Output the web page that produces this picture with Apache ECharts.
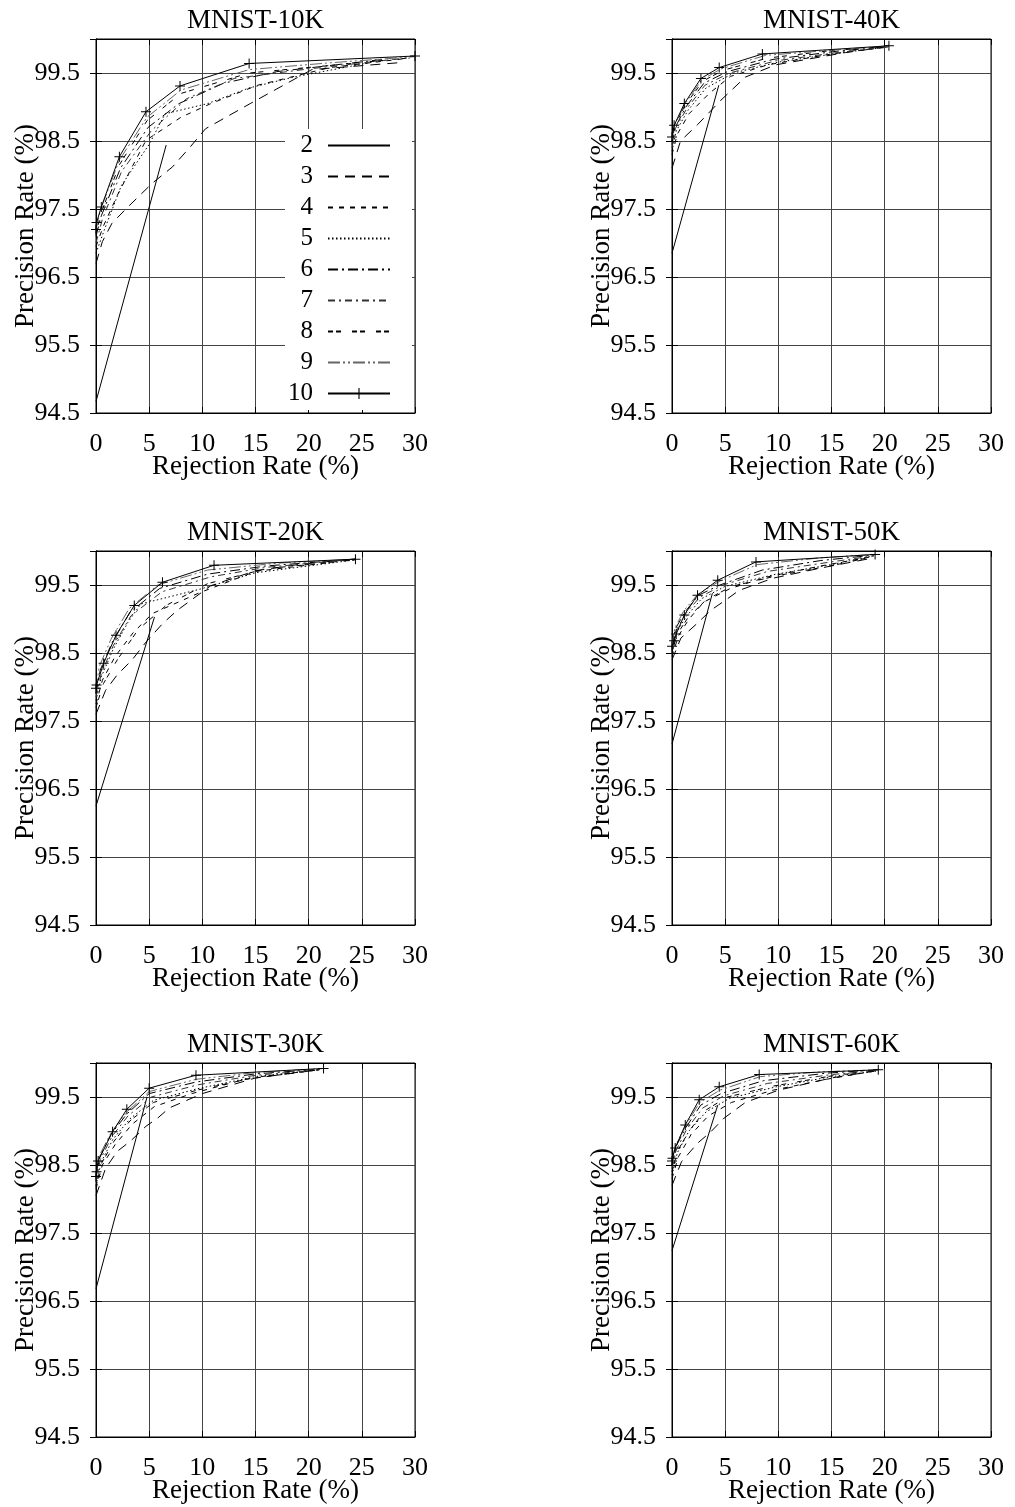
<!DOCTYPE html>
<html><head><meta charset="utf-8">
<script src="https://cdn.jsdelivr.net/npm/echarts@6/dist/echarts.min.js"></script>
<style>html,body{margin:0;padding:0;background:#fff}#c{width:1015px;height:1507px}</style>
</head><body><div id="c"></div>
<script>
// ---------------- data ----------------
const panelTitles = ['MNIST-10K', 'MNIST-40K', 'MNIST-20K', 'MNIST-50K', 'MNIST-30K', 'MNIST-60K'];
const kNames = ['2', '3', '4', '5', '6', '7', '8', '9', '10'];
const xTickValues = [0, 5, 10, 15, 20, 25, 30];
const yTickValues = [94.5, 95.5, 96.5, 97.5, 98.5, 99.5];
const xAxisTitle = 'Rejection Rate (%)';
const yAxisTitle = 'Precision Rate (%)';

// each array: one curve per k (2..10), points [rejection %, precision %]
const curves10K = [
  [[0,94.67],[6.6,98.44]],
  [[0,96.7],[0.6,97.02],[1.5,97.29],[3.0,97.53],[5.3,97.88],[7.2,98.12],[8.9,98.42],[10.3,98.68],[14.5,99.05],[20.3,99.55],[28.4,99.65]],
  [[0,96.95],[0.7,97.25],[2.0,97.7],[4.7,98.51],[8.0,98.85],[10.8,99.05],[15.2,99.32],[22,99.58],[29.5,99.72]],
  [[0,96.85],[0.8,97.2],[2.4,97.85],[5.0,98.45],[6.5,98.9],[10.5,99.05],[14.4,99.28],[18.6,99.44],[26,99.66]],
  [[0,97.1],[0.5,97.4],[2.3,98.1],[4.9,98.7],[7.8,99.05],[12,99.35],[17,99.52],[27,99.7]],
  [[0,97.0],[0.6,97.35],[2.4,98.05],[5.2,98.65],[8.5,99.12],[13,99.42],[20,99.56],[28,99.7]],
  [[0,97.15],[0.5,97.45],[2.2,98.15],[4.8,98.8],[8.0,99.2],[14.4,99.5],[24,99.64],[30,99.73]],
  [[0,97.2],[0.4,97.48],[2.2,98.22],[4.8,98.85],[8.0,99.25],[14.4,99.55],[22,99.65],[30,99.74]],
  [[0,97.2],[0.05,97.3],[0.5,97.53],[2.2,98.27],[4.7,98.93],[7.9,99.31],[14.4,99.64],[30,99.75]]
];
const curves40K = [
  [[0,96.85],[4.4,99.32]],
  [[0,98.1],[0.8,98.5],[2.4,98.74],[4.6,99.1],[6.9,99.44],[9.75,99.62],[16.3,99.8],[20,99.88]],
  [[0,98.3],[0.5,98.6],[1.6,98.9],[3.5,99.2],[5.5,99.45],[9,99.62],[15,99.78],[20.2,99.88]],
  [[0,98.35],[0.4,98.65],[1.5,98.95],[3.2,99.28],[5.8,99.5],[10,99.66],[16,99.8],[20.2,99.88]],
  [[0,98.45],[0.3,98.7],[1.3,99.0],[3.0,99.35],[5.2,99.52],[9.5,99.7],[15.5,99.82],[20.3,99.89]],
  [[0,98.4],[0.3,98.68],[1.4,98.98],[3.1,99.32],[5.4,99.5],[9.8,99.68],[16,99.81],[20.3,99.88]],
  [[0,98.5],[0.25,98.72],[1.2,99.02],[2.9,99.38],[4.8,99.54],[9,99.72],[15,99.83],[20.3,99.89]],
  [[0,98.52],[0.2,98.72],[1.2,99.04],[2.8,99.4],[4.6,99.56],[8.8,99.76],[18,99.87],[20.4,99.9]],
  [[0,98.56],[0.2,98.73],[1.16,99.05],[2.72,99.42],[4.44,99.58],[8.5,99.78],[20.4,99.9]]
];
const curves20K = [
  [[0,96.25],[5.5,99.03]],
  [[0,97.6],[0.9,97.95],[2.0,98.18],[3.4,98.4],[4.7,98.66],[6.25,98.93],[7.66,99.13],[10.8,99.49],[15,99.71],[19,99.8],[24,99.88]],
  [[0,97.75],[0.6,98.1],[1.8,98.45],[3.5,98.8],[5.3,99.08],[9.8,99.39],[15,99.7],[24,99.87]],
  [[0,97.8],[0.5,98.15],[1.6,98.55],[3.0,98.95],[4.2,99.22],[9.8,99.44],[15,99.68],[24.4,99.87]],
  [[0,97.9],[0.4,98.25],[1.5,98.65],[3.2,99.1],[6.0,99.45],[10.5,99.66],[16,99.78],[24.4,99.88]],
  [[0,97.85],[0.5,98.2],[1.6,98.6],[3.3,99.05],[6.2,99.4],[10.8,99.62],[16,99.76],[24.4,99.88]],
  [[0,97.7],[0.7,98.05],[2.0,98.4],[4.0,98.85],[6.6,99.2],[10.5,99.52],[16,99.74],[24.4,99.87]],
  [[0,97.95],[0.3,98.3],[1.4,98.7],[3.1,99.15],[5.8,99.5],[10.5,99.72],[17,99.82],[24.4,99.88]],
  [[0,97.98],[0.05,98.03],[0.72,98.35],[1.88,98.76],[3.6,99.2],[6.25,99.54],[11.1,99.79],[24.4,99.88]]
];
const curves50K = [
  [[0,97.16],[3.8,99.38]],
  [[0,98.4],[0.84,98.72],[2.4,98.94],[3.66,99.13],[5.06,99.28],[6.3,99.42],[9.5,99.6],[14,99.75],[19,99.9]],
  [[0,98.45],[0.6,98.75],[1.6,99.0],[3.0,99.25],[5.5,99.45],[9,99.62],[14,99.78],[18.9,99.92]],
  [[0,98.5],[0.4,98.8],[1.4,99.05],[2.8,99.3],[5.0,99.48],[9.8,99.66],[15,99.8],[19,99.93]],
  [[0,98.58],[0.3,98.85],[1.2,99.1],[2.5,99.35],[4.5,99.5],[8.5,99.72],[14,99.86],[19,99.94]],
  [[0,98.55],[0.35,98.82],[1.3,99.08],[2.6,99.32],[4.8,99.5],[9,99.7],[15,99.84],[19,99.93]],
  [[0,98.52],[0.5,98.78],[1.5,99.02],[3.2,99.28],[5.6,99.48],[10,99.64],[15.5,99.8],[19,99.92]],
  [[0,98.6],[0.25,98.86],[1.1,99.12],[2.4,99.36],[4.4,99.55],[8.0,99.8],[14,99.9],[19.1,99.95]],
  [[0,98.6],[0.2,98.68],[0.4,98.78],[1.16,99.06],[2.4,99.35],[4.3,99.57],[7.9,99.84],[19.1,99.95]]
];
const curves30K = [
  [[0,96.68],[4.8,99.5]],
  [[0,98.05],[0.9,98.45],[2.0,98.7],[3.3,98.86],[4.7,99.07],[5.8,99.19],[6.9,99.34],[10,99.55],[15,99.78],[20,99.88]],
  [[0,98.15],[0.6,98.5],[1.8,98.8],[3.4,99.1],[5.5,99.36],[9,99.55],[14,99.76],[21,99.9]],
  [[0,98.2],[0.5,98.55],[1.6,98.88],[3.2,99.18],[5.4,99.45],[9.5,99.62],[15,99.8],[21,99.9]],
  [[0,98.3],[0.3,98.6],[1.4,98.95],[2.9,99.25],[5.0,99.55],[9.4,99.72],[15,99.84],[21.2,99.91]],
  [[0,98.25],[0.4,98.58],[1.5,98.92],[3.0,99.22],[5.2,99.5],[9.6,99.68],[15,99.82],[21,99.9]],
  [[0,98.18],[0.5,98.52],[1.7,98.85],[3.2,99.15],[5.4,99.42],[9.5,99.6],[15,99.79],[21,99.9]],
  [[0,98.32],[0.25,98.62],[1.4,98.97],[2.9,99.28],[5.0,99.58],[9.4,99.76],[15,99.86],[21.3,99.92]],
  [[0,98.33],[0.05,98.4],[0.2,98.56],[1.56,98.99],[2.9,99.32],[5,99.63],[9.4,99.82],[21.4,99.92]]
];
const curves60K = [
  [[0,97.24],[4.3,99.38]],
  [[0,98.2],[0.9,98.55],[2.4,98.82],[3.66,98.99],[4.9,99.19],[6.9,99.42],[10,99.6],[15,99.78],[19,99.88]],
  [[0,98.3],[0.6,98.62],[1.8,98.95],[3.4,99.22],[5.6,99.42],[9.5,99.6],[14.5,99.76],[19,99.88]],
  [[0,98.35],[0.5,98.68],[1.6,99.0],[3.2,99.28],[5.4,99.48],[9.8,99.65],[15,99.8],[19.2,99.88]],
  [[0,98.5],[0.3,98.75],[1.3,99.05],[2.7,99.38],[4.6,99.55],[8.6,99.74],[14.5,99.85],[19.3,99.9]],
  [[0,98.45],[0.4,98.72],[1.4,99.03],[2.9,99.34],[4.9,99.52],[9,99.7],[15,99.83],[19.3,99.89]],
  [[0,98.4],[0.5,98.7],[1.6,99.0],[3.1,99.3],[5.2,99.5],[9.5,99.66],[15,99.81],[19.2,99.89]],
  [[0,98.55],[0.25,98.76],[1.25,99.07],[2.6,99.42],[4.5,99.6],[8.3,99.8],[14,99.87],[19.4,99.9]],
  [[0,98.56],[0.05,98.6],[0.3,98.75],[1.25,99.09],[2.56,99.46],[4.44,99.65],[8.2,99.83],[19.4,99.9]]
];
const panelCurves = [curves10K, curves40K, curves20K, curves50K, curves30K, curves60K];

// ---------------- styles / layout ----------------
const FONT = 'Liberation Serif, Times New Roman, serif';
const FS = 26;      // tick labels
const FS_NAME = 27; // titles & axis names
const colLeft = [96, 672];
const rowTop = [39, 551, 1063];
const PW = 319, PH = 374;
const lineColors = ['#000','#000','#000','#000','#000','#333','#000','#666','#000'];
const lineTypes = ['solid', [10,7], [5,6], [1.5,2.5], [10,4,2,4], [7,4,2,4], [5,3,5,11], [12,3,2,3,2,3], 'solid'];
const plusPath = 'path://M4.5,0h1v10h-1zM0,4.5h10v1h-10z';

const grids = [], xAxes = [], yAxes = [], titles = [], series = [];
panelTitles.forEach((t, p) => {
  const col = p % 2, row = Math.floor(p / 2);
  const left = colLeft[col], top = rowTop[row];
  grids.push({left: left, top: top, width: PW, height: PH, show: true, borderColor: '#000', borderWidth: 1,
              backgroundColor: 'transparent', containLabel: false, outerBoundsMode: 'none'});
  titles.push({text: t, left: left + PW / 2, top: top - 32, textAlign: 'center', padding: 0,
               textStyle: {fontFamily: FONT, fontSize: FS_NAME, fontWeight: 'normal', color: '#000'}});
  const axLine = {show: true, lineStyle: {color: '#000', width: 1}};
  const axTick = {show: true, inside: true, length: 6, lineStyle: {color: '#000', width: 1}};
  xAxes.push({type: 'value', gridIndex: p, position: 'bottom', min: 0, max: 30, interval: 5,
    axisLine: axLine, axisTick: axTick,
    axisLabel: {show: true, margin: 18, fontFamily: FONT, fontSize: FS, color: '#000',
                formatter: v => String(v)},
    splitLine: {show: true, lineStyle: {color: '#444', width: 1}},
    name: xAxisTitle, nameLocation: 'middle', nameGap: 40, nameMoveOverlap: false,
    nameTextStyle: {fontFamily: FONT, fontSize: FS_NAME, color: '#000'}});
  xAxes.push({type: 'value', gridIndex: p, position: 'top', min: 0, max: 30, interval: 5,
    axisLine: axLine, axisTick: axTick, axisLabel: {show: false}, splitLine: {show: false}});
  yAxes.push({type: 'value', gridIndex: p, position: 'left', min: 94.5, max: 100, interval: 1,
    axisLine: axLine, axisTick: axTick,
    axisLabel: {show: true, margin: 16, fontFamily: FONT, fontSize: FS, color: '#000',
                formatter: v => (yTickValues.some(y => Math.abs(y - v) < 1e-6) ? v.toFixed(1) : '')},
    splitLine: {show: true, lineStyle: {color: '#444', width: 1}},
    name: yAxisTitle, nameLocation: 'middle', nameGap: 57, nameMoveOverlap: false,
    nameTextStyle: {fontFamily: FONT, fontSize: FS_NAME, color: '#000'}});
  yAxes.push({type: 'value', gridIndex: p, position: 'right', min: 94.5, max: 100, interval: 1,
    axisLine: axLine, axisTick: axTick, axisLabel: {show: false}, splitLine: {show: false}});
  panelCurves[p].forEach((pts, j) => {
    series.push({
      type: 'line', name: kNames[j], xAxisIndex: 2 * p, yAxisIndex: 2 * p,
      data: pts, symbol: j === 8 ? plusPath : 'none', symbolSize: 10, showSymbol: j === 8,
      lineStyle: {color: lineColors[j], width: 1, type: lineTypes[j]},
      itemStyle: {color: lineColors[j], borderWidth: 0},
      emphasis: {disabled: true}, silent: true, animation: false, z: 2 + j * 0.01
    });
  });
});

const chart = echarts.init(document.getElementById('c'), null, {renderer: 'canvas'});
chart.setOption({
  backgroundColor: '#fff',
  animation: false,
  title: titles,
  grid: grids,
  xAxis: xAxes,
  yAxis: yAxes,
  legend: {
    data: kNames.map((n, j) => ({name: n, itemStyle: j === 8 ? {} : {opacity: 0}})),
    orient: 'vertical', align: 'right', left: 285, top: 129,
    padding: [4, 21, 4, 3], itemWidth: 62, itemHeight: 14, itemGap: 6,
    backgroundColor: '#fff', selectedMode: false, z: 10,
    textStyle: {fontFamily: FONT, fontSize: 25, color: '#000', lineHeight: 25, padding: [0, 10, 0, 0]}
  },
  series: series
});
</script></body></html>
